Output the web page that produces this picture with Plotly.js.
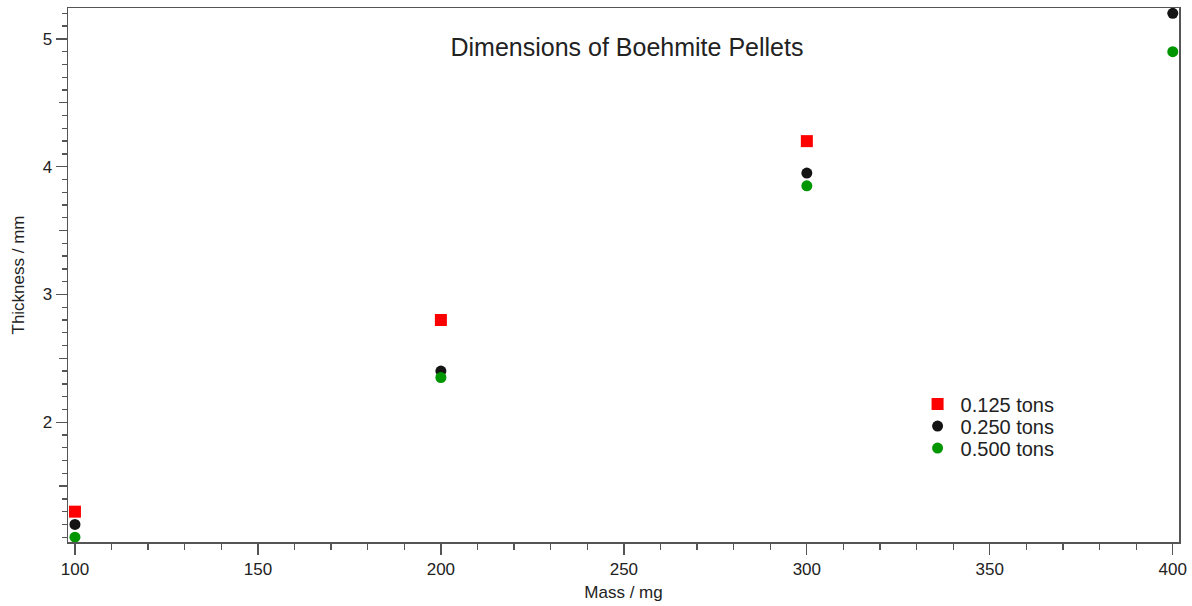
<!DOCTYPE html>
<html>
<head>
<meta charset="utf-8">
<script src="https://cdn.plot.ly/plotly-3.0.1.min.js"></script>
<style>
  html, body { margin: 0; padding: 0; background: #fff; }
  #chart { width: 1192px; height: 606px; }
</style>
</head>
<body>
<div id="chart"></div>
<script>
// Pellet mass (mg) and measured thickness (mm) per pressing load
const massMg = [100, 200, 300, 400];
const seriesNames = ['0.125 tons', '0.250 tons', '0.500 tons'];
const thick0125 = [1.30, 2.80, 4.20];
const thick0250 = [1.20, 2.40, 3.95, 5.20];
const thick0500 = [1.10, 2.35, 3.85, 4.90];

const font = '"Liberation Sans", Arial, sans-serif';
const axisColor = '#555';

const traces = [
  { x: massMg.slice(0, thick0125.length), y: thick0125, name: seriesNames[0], legend: 'legend',
    marker: { symbol: 'square', size: 12, color: '#ff0000' } },
  { x: massMg, y: thick0250, name: seriesNames[1], legend: 'legend2',
    marker: { symbol: 'circle', size: 11, color: '#141414' } },
  { x: massMg, y: thick0500, name: seriesNames[2], legend: 'legend3',
    marker: { symbol: 'circle', size: 11, color: '#009600' } }
].map(t => Object.assign({ type: 'scatter', mode: 'markers', cliponaxis: false }, t));

// invisible trace carrying the half-unit tick marks on the overlay axis
traces.push({ type: 'scatter', mode: 'markers', x: [], y: [], yaxis: 'y2',
  showlegend: false, hoverinfo: 'skip' });

// one legend box per series so the rows sit tightly stacked
function legendBox(y) {
  return {
    x: 0.762, y: y, xanchor: 'left', yanchor: 'middle',
    bgcolor: 'rgba(0,0,0,0)', font: { family: font, size: 20, color: '#222' },
    itemwidth: 36
  };
}

const layout = {
  width: 1192, height: 606,
  margin: { l: 68, r: 13, t: 8, b: 64 },
  paper_bgcolor: '#fff', plot_bgcolor: '#fff',
  font: { family: font, color: '#222', size: 14 },
  title: {
    text: 'Dimensions of Boehmite Pellets',
    font: { family: font, size: 25, color: '#222' },
    x: 0.526, xref: 'container', xanchor: 'center',
    y: 0.922, yref: 'container', yanchor: 'middle'
  },
  showlegend: true,
  legend: legendBox(0.2584),
  legend2: legendBox(0.2172),
  legend3: legendBox(0.1760),
  xaxis: {
    range: [98.1, 401.7], showgrid: false, zeroline: false,
    showline: true, linecolor: axisColor, linewidth: 1.5, mirror: true,
    ticks: 'outside', ticklen: 11, tickwidth: 1.3, tickcolor: axisColor,
    tick0: 100, dtick: 50,
    minor: { ticks: 'outside', ticklen: 6, tickwidth: 1.3, tickcolor: axisColor, dtick: 10, showgrid: false },
    tickfont: { family: font, size: 17, color: '#222' },
    title: { text: 'Mass / mg', font: { family: font, size: 17, color: '#222' }, standoff: 8 }
  },
  yaxis: {
    range: [1.0625, 5.242], showgrid: false, zeroline: false,
    showline: true, linecolor: axisColor, linewidth: 1.5, mirror: true,
    ticks: 'outside', ticklen: 11, tickwidth: 1.3, tickcolor: axisColor,
    tick0: 0, dtick: 1,
    minor: { ticks: 'outside', ticklen: 5, tickwidth: 1.3, tickcolor: axisColor, dtick: 0.1, showgrid: false },
    tickfont: { family: font, size: 17, color: '#222' },
    title: { text: 'Thickness / mm', font: { family: font, size: 17, color: '#222' }, standoff: 13 }
  },
  yaxis2: {
    overlaying: 'y', side: 'left', range: [1.0625, 5.242],
    showgrid: false, zeroline: false, showline: false, showticklabels: false,
    ticks: 'outside', ticklen: 8, tickwidth: 1.3, tickcolor: axisColor,
    tick0: 0, dtick: 0.5
  }
};

Plotly.newPlot('chart', traces, layout, { displayModeBar: false, staticPlot: true });
</script>
</body>
</html>
